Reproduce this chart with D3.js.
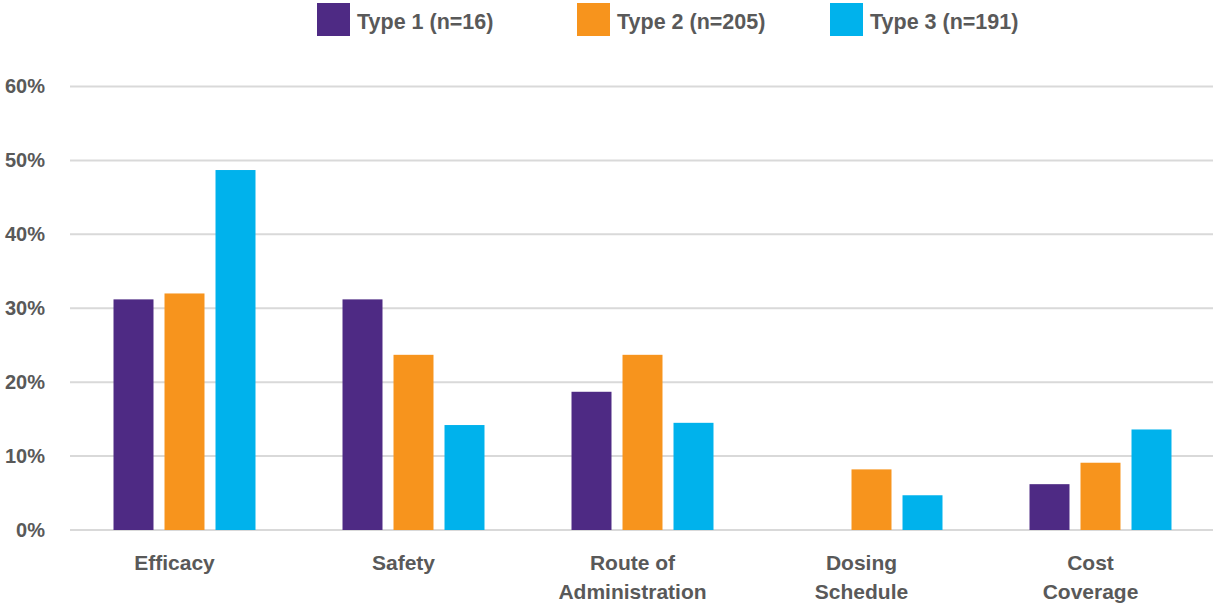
<!DOCTYPE html>
<html><head><meta charset="utf-8">
<script src="https://cdn.jsdelivr.net/npm/d3@7"></script>
<style>body{margin:0;background:#fff}svg{display:block}text{font-family:"Liberation Sans",Arial,sans-serif;font-weight:bold;fill:#595959}</style>
</head><body><svg id="c" width="1213" height="605"></svg>
<script>
const categories = [["Efficacy"],["Safety"],["Route of","Administration"],["Dosing","Schedule"],["Cost","Coverage"]];
const seriesNames = ["Type 1 (n=16)","Type 2 (n=205)","Type 3 (n=191)"];
const seriesColors = ["#4E2A84","#F7941D","#00B2EC"];
const type1 = [31.2, 31.2, 18.7, 0, 6.2];
const type2 = [32.0, 23.7, 23.7, 8.2, 9.1];
const type3 = [48.7, 14.2, 14.5, 4.7, 13.6];
const yTicks = [0,10,20,30,40,50,60];

(function(){
const series = [type1,type2,type3];
const svg = d3.select("#c");
const mLeft=70, mRight=1215, mTop=86.5, mBottom=530;
const x0 = d3.scaleBand().domain(d3.range(categories.length)).range([mLeft,mRight]);
const x1 = d3.scaleBand().domain(d3.range(series.length)).range([0,x0.bandwidth()]).paddingInner(0.216).paddingOuter(0.853);
const y = d3.scaleLinear().domain([0,60]).range([mBottom,mTop]);

svg.append("g").selectAll("line").data(yTicks).join("line")
  .attr("x1",mLeft).attr("x2",1213).attr("y1",d=>y(d)).attr("y2",d=>y(d))
  .attr("stroke","#d9d9d9").attr("stroke-width",2);

const ya = svg.append("g").attr("transform",`translate(${mLeft},0)`)
  .call(d3.axisLeft(y).tickValues(yTicks).tickFormat(d=>d+"%").tickSize(0).tickPadding(25));
ya.select(".domain").remove();
ya.selectAll("text").style("font-size","20px").style("font-family","Liberation Sans, Arial, sans-serif").attr("fill","#595959").attr("font-weight","bold");

const g = svg.append("g");
categories.forEach((c,i)=>{
  series.forEach((s,j)=>{
    if(s[i]<=0) return;
    g.append("rect").attr("x",x0(i)+x1(j)).attr("width",x1.bandwidth())
      .attr("y",y(s[i])).attr("height",y(0)-y(s[i])).attr("fill",seriesColors[j]);
  });
});

const xa = svg.append("g").attr("transform",`translate(0,${mBottom})`)
  .call(d3.axisBottom(x0).tickSize(0).tickFormat(""));
xa.select(".domain").remove();
xa.selectAll(".tick").each(function(d){
  const t = d3.select(this).append("text").attr("text-anchor","middle").attr("x",-10)
    .style("font-size","21px").attr("fill","#595959");
  categories[d].forEach((line,k)=>{
    t.append("tspan").attr("x",-10).attr("y",40+k*29).text(line);
  });
});

const legX = [317,577,830];
const leg = svg.append("g");
seriesNames.forEach((n,j)=>{
  leg.append("rect").attr("x",legX[j]).attr("y",3).attr("width",33).attr("height",33).attr("fill",seriesColors[j]);
  leg.append("text").attr("x",legX[j]+40).attr("y",29).style("font-size","21.5px").text(n);
});
})();
</script></body></html>
